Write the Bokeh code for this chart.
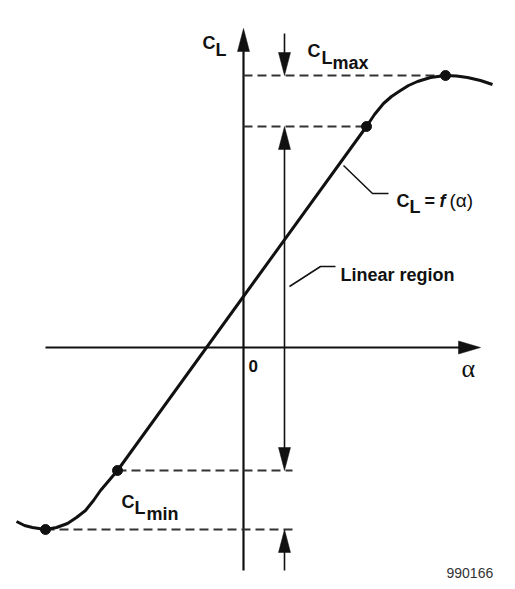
from bokeh.plotting import figure
from bokeh.models import Range1d
from bokeh.core.properties import value
from bokeh.embed import file_html
from bokeh.resources import INLINE

# ---- data (diagram units: 1 unit = 1 px, origin at axis crossing) ----
alpha_curve = [-227, -219, -211, -198, -187, -176, -167, -158, -150, -143, -126,
               123, 131, 140, 148, 157, 165, 174, 187, 202, 213, 224, 237, 249]
cl_curve = [-174, -178, -180, -182, -180, -176, -170, -163, -153, -143, -123,
            221, 233, 244, 251, 257, 262, 266, 270, 272, 271.5, 270, 267, 263]

# key points: CL_min, lower end of linear region, upper end, CL_max
key_alpha = [-198, -126, 123, 202]
key_cl = [-182, -123, 221, 272]

axis_alpha_min, axis_alpha_max = -198, 237
axis_cl_min, axis_cl_max = -223, 319
dim_alpha = 41          # position of the dimension arrows
dash_end = 49           # end of the lower dashed lines
dim_top, dim_bottom = 314, -223

INK = "#111111"
DASH = "#333333"

p = figure(width=507, height=581, output_backend="svg", toolbar_location=None,
           x_range=Range1d(-243, 264), y_range=Range1d(-234, 347),
           min_border=0, outline_line_color=None, background_fill_color="white",
           border_fill_color="white")
p.xaxis.visible = False
p.yaxis.visible = False
p.grid.visible = False


def head(tx, ty, direction, length=23, half=6):
    # triangle arrowhead with tip at (tx, ty)
    if direction == "up":
        return [tx, tx - half, tx + half], [ty, ty - length, ty - length]
    if direction == "down":
        return [tx, tx - half, tx + half], [ty, ty + length, ty + length]
    if direction == "right":
        return [tx, tx - length, tx - length], [ty, ty - half, ty + half]
    return [tx, tx + length, tx + length], [ty, ty - half, ty + half]


heads_x, heads_y = [], []

# axes
p.segment(x0=[axis_alpha_min, 0], y0=[0, axis_cl_min],
          x1=[axis_alpha_max - 10, 0], y1=[0, axis_cl_max - 10],
          line_color=INK, line_width=2.2)
for hx, hy in [head(axis_alpha_max, 0, "right", 22, 6.5), head(0, axis_cl_max, "up", 23, 6)]:
    heads_x.append(hx)
    heads_y.append(hy)

# dashed reference lines
p.segment(x0=[0, 0, key_alpha[1], key_alpha[0]],
          y0=[key_cl[3], key_cl[2], key_cl[1], key_cl[0]],
          x1=[key_alpha[3], key_alpha[2], dash_end, dash_end],
          y1=[key_cl[3], key_cl[2], key_cl[1], key_cl[0]],
          line_color=DASH, line_width=1.8, line_dash="9 5")

# dimension arrows
p.segment(x0=[dim_alpha, dim_alpha, dim_alpha],
          y0=[dim_top, key_cl[2] - 10, dim_bottom],
          x1=[dim_alpha, dim_alpha, dim_alpha],
          y1=[key_cl[3] + 10, key_cl[1] + 10, key_cl[0] - 10],
          line_color=INK, line_width=1.6)
for hx, hy in [head(dim_alpha, key_cl[3], "down"), head(dim_alpha, key_cl[2], "up"),
               head(dim_alpha, key_cl[1], "down"), head(dim_alpha, key_cl[0], "up")]:
    heads_x.append(hx)
    heads_y.append(hy)

p.patches(xs=heads_x, ys=heads_y, fill_color=INK, line_color=INK, line_width=0.5)

# curve
p.line(alpha_curve, cl_curve, line_color=INK, line_width=3, line_join="round")
p.scatter(key_alpha, key_cl, size=10, fill_color=INK, line_color=INK)

# leader lines
p.line([100, 129, 145], [182, 154, 154], line_color=INK, line_width=1.5)
p.line([46, 77, 92], [61, 81, 81], line_color=INK, line_width=1.5)

BOLD = dict(text_font=value("Liberation Sans"), text_font_style="bold",
            text_color=INK, text_baseline="alphabetic", text_align="left")


def label(x, y, t, size="18px", **kw):
    opts = dict(BOLD)
    opts.update(kw)
    p.text(x=[x], y=[y], text=[t], text_font_size=size, **opts)


# axis labels
label(-41, 305, "C")
label(-28, 298, "L")
label(5, -18, "0", size="17px")
label(218, -21, "α", size="26px", text_font=value("Liberation Serif"),
      text_font_style="normal")

# CL max / min
label(64, 297, "C")
label(78, 290, "L")
label(89, 285, "max")
label(-122, -154, "C")
label(-109, -160, "L")
label(-97, -166, "min")

# curve label
label(153, 147, "C")
label(166, 141, "L")
label(181, 147, "=")
label(196, 147, "f", text_font_style="bold italic")
label(206, 147, "(α)", size="19px", text_font_style="normal")

label(97, 73, "Linear region")

label(203, -225, "990166", size="14px", text_font_style="normal", text_color="#333333")

open("out.html", "w").write(file_html(p, INLINE))
